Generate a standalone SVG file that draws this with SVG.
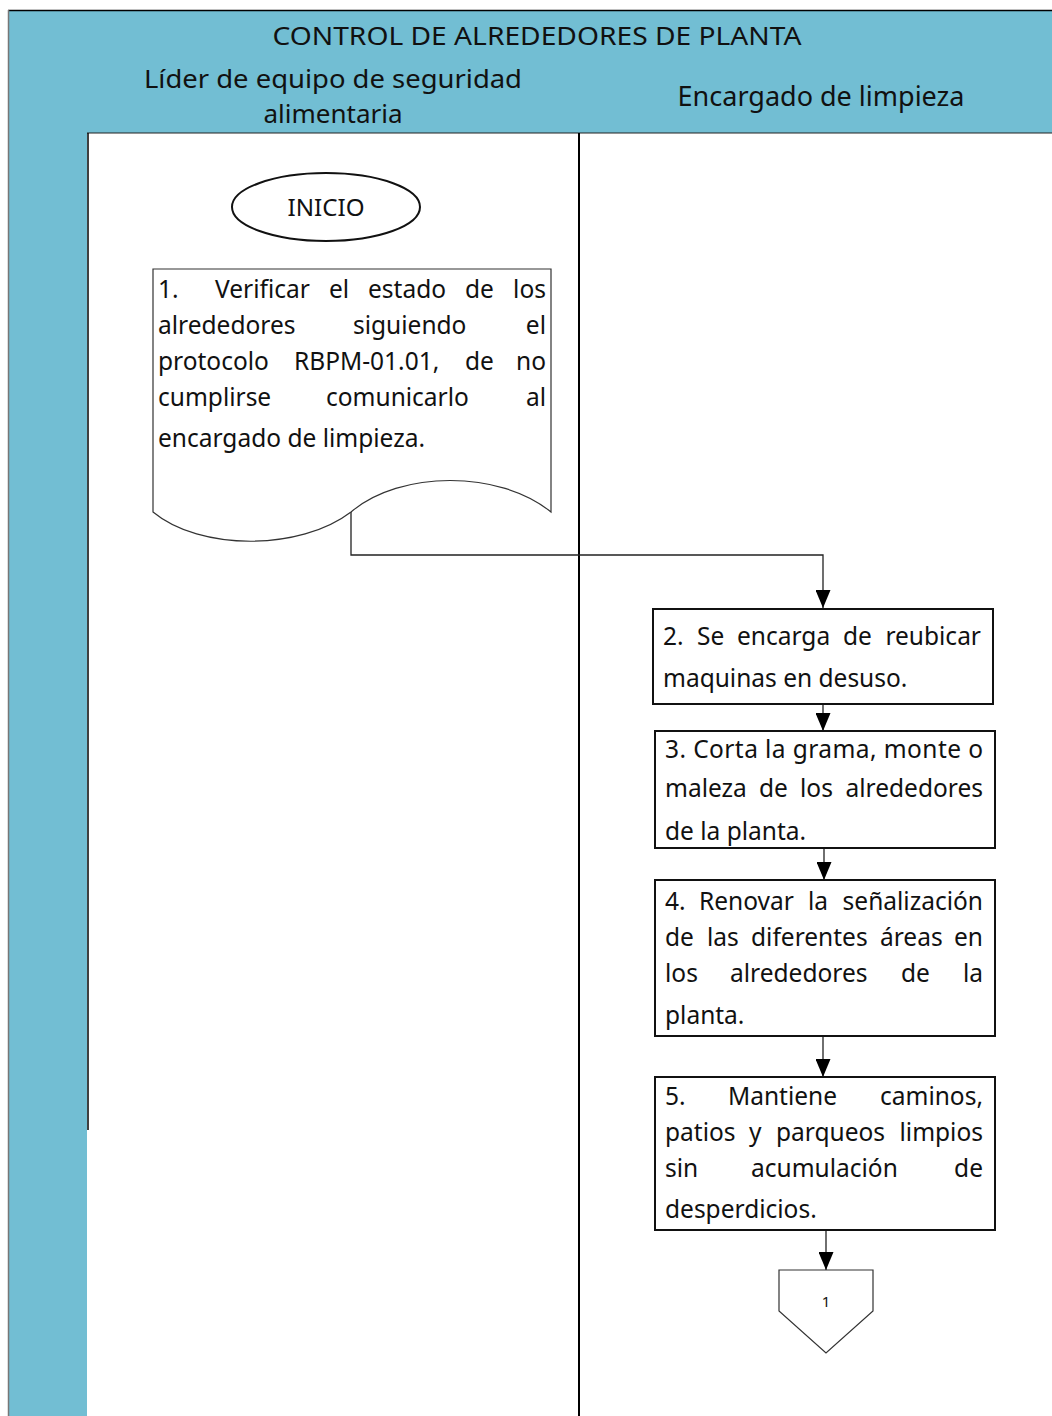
<svg xmlns="http://www.w3.org/2000/svg" width="1052" height="1416" viewBox="0 0 1052 1416">
  <style>
    .lane { fill: #72BED3; }
    .hdr { font-family: "Noto Sans", "Open Sans", sans-serif; fill: #111; }
    .body { font-family: "Noto Sans", "Open Sans", sans-serif; font-size: 24.5px; fill: #111; }
    .shape { fill: #fff; stroke: #111; stroke-width: 2; }
    .thin { fill: #fff; stroke: #333; stroke-width: 1.2; }
    .conn { fill: none; stroke: #222; stroke-width: 1.3; }
    .e { text-anchor: end; }
  </style>
  <defs>
    <marker id="arrow" markerWidth="18" markerHeight="15" refX="18" refY="7.5" orient="auto" markerUnits="userSpaceOnUse">
      <path d="M0,0 L18,7.5 L0,15 Z" fill="#000"/>
    </marker>
  </defs>

  <rect width="1052" height="1416" fill="#fff"/>

  <!-- swimlane frame -->
  <g id="pool">
    <rect class="lane" x="8" y="10" width="1044" height="123"/>
    <rect class="lane" x="8" y="10" width="79" height="1406"/>
    <line x1="8" y1="10.5" x2="1052" y2="10.5" stroke="#000" stroke-width="1.5"/>
    <line x1="8.5" y1="10" x2="8.5" y2="1416" stroke="#777" stroke-width="1.5"/>
    <line x1="87" y1="133" x2="1052" y2="133" stroke="#222" stroke-width="1.2"/>
    <line x1="88" y1="133" x2="88" y2="1130" stroke="#000" stroke-width="1.5"/>
    <line x1="579" y1="133" x2="579" y2="1416" stroke="#000" stroke-width="2"/>
    <text class="hdr" x="537" y="45" font-size="26" text-anchor="middle" textLength="529" lengthAdjust="spacingAndGlyphs">CONTROL DE ALREDEDORES DE PLANTA</text>
    <text class="hdr" x="333" y="88" font-size="26" text-anchor="middle" textLength="378" lengthAdjust="spacingAndGlyphs">Líder de equipo de seguridad</text>
    <text class="hdr" x="333" y="123" font-size="26" text-anchor="middle">alimentaria</text>
    <text class="hdr" x="821" y="106" font-size="27" text-anchor="middle">Encargado de limpieza</text>
  </g>

  <!-- connectors -->
  <g id="connectors">
    <path class="conn" d="M351,512 V555 H823 V608" marker-end="url(#arrow)"/>
    <line class="conn" x1="823" y1="704" x2="823" y2="731" marker-end="url(#arrow)"/>
    <line class="conn" x1="824" y1="848" x2="824" y2="880" marker-end="url(#arrow)"/>
    <line class="conn" x1="823" y1="1036" x2="823" y2="1077" marker-end="url(#arrow)"/>
    <line class="conn" x1="826" y1="1230" x2="826" y2="1270" marker-end="url(#arrow)"/>
  </g>

  <!-- start terminator -->
  <g id="inicio">
    <ellipse class="shape" cx="326" cy="207" rx="94" ry="34" stroke-width="1.6"/>
    <text class="hdr" x="326" y="216" font-size="23" text-anchor="middle" textLength="77" lengthAdjust="spacingAndGlyphs">INICIO</text>
  </g>

  <!-- step 1: document -->
  <g id="step1">
    <path class="thin" d="M153,269 H551 V512 C500,470 400,470 351,512 C300,551 200,551 153,512 Z"/>
    <text class="body" y="298"><tspan x="158">1.</tspan><tspan x="215">Verificar</tspan><tspan x="329">el</tspan><tspan x="368">estado</tspan><tspan x="465">de</tspan><tspan x="546" class="e">los</tspan></text>
    <text class="body" y="334"><tspan x="158">alrededores</tspan><tspan x="353">siguiendo</tspan><tspan x="546" class="e">el</tspan></text>
    <text class="body" y="370"><tspan x="158">protocolo</tspan><tspan x="294">RBPM-01.01,</tspan><tspan x="465">de</tspan><tspan x="546" class="e">no</tspan></text>
    <text class="body" y="406"><tspan x="158">cumplirse</tspan><tspan x="326">comunicarlo</tspan><tspan x="546" class="e">al</tspan></text>
    <text class="body" x="158" y="447">encargado de limpieza.</text>
  </g>

  <!-- step 2 -->
  <g id="step2">
    <rect class="shape" x="653" y="609" width="340" height="95"/>
    <text class="body" y="645"><tspan x="663">2.</tspan><tspan x="697">Se</tspan><tspan x="737">encarga</tspan><tspan x="843">de</tspan><tspan x="981" class="e">reubicar</tspan></text>
    <text class="body" x="663" y="687">maquinas en desuso.</text>
  </g>

  <!-- step 3 -->
  <g id="step3">
    <rect class="shape" x="655" y="731" width="340" height="117"/>
    <text class="body" x="665" y="758" textLength="318">3. Corta la grama, monte o</text>
    <text class="body" y="797"><tspan x="665">maleza</tspan><tspan x="759">de</tspan><tspan x="800">los</tspan><tspan x="983" class="e">alrededores</tspan></text>
    <text class="body" x="665" y="840">de la planta.</text>
  </g>

  <!-- step 4 -->
  <g id="step4">
    <rect class="shape" x="655" y="880" width="340" height="156"/>
    <text class="body" y="910"><tspan x="665">4.</tspan><tspan x="699">Renovar</tspan><tspan x="808">la</tspan><tspan x="983" class="e">señalización</tspan></text>
    <text class="body" y="946"><tspan x="665">de</tspan><tspan x="707">las</tspan><tspan x="751">diferentes</tspan><tspan x="880">áreas</tspan><tspan x="983" class="e">en</tspan></text>
    <text class="body" y="982"><tspan x="665">los</tspan><tspan x="730">alrededores</tspan><tspan x="901">de</tspan><tspan x="983" class="e">la</tspan></text>
    <text class="body" x="665" y="1024">planta.</text>
  </g>

  <!-- step 5 -->
  <g id="step5">
    <rect class="shape" x="655" y="1077" width="340" height="153"/>
    <text class="body" y="1105"><tspan x="665">5.</tspan><tspan x="728">Mantiene</tspan><tspan x="983" class="e">caminos,</tspan></text>
    <text class="body" y="1141"><tspan x="665">patios</tspan><tspan x="749">y</tspan><tspan x="776">parqueos</tspan><tspan x="983" class="e">limpios</tspan></text>
    <text class="body" y="1177"><tspan x="665">sin</tspan><tspan x="751">acumulación</tspan><tspan x="983" class="e">de</tspan></text>
    <text class="body" x="665" y="1218">desperdicios.</text>
  </g>

  <!-- off-page connector -->
  <g id="offpage1">
    <polygon class="thin" points="779,1270 873,1270 873,1311 826,1353 779,1311"/>
    <text class="hdr" x="826" y="1307" font-size="15" text-anchor="middle">1</text>
  </g>
</svg>
